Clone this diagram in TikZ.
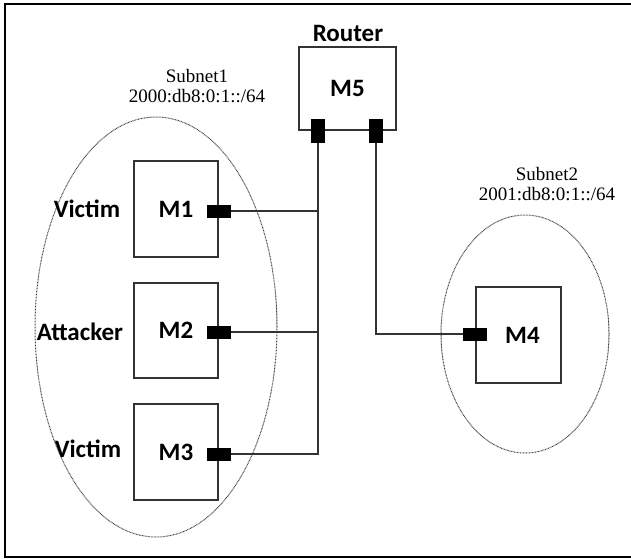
\documentclass[tikz,border=0pt]{standalone}
\usepackage{fontspec}
\setmainfont{Liberation Serif}
\newfontfamily\lblfont{Carlito}
\usetikzlibrary{shapes.geometric}
\begin{document}
\begin{tikzpicture}[x=1pt,y=-1pt,
  host/.style={draw=black!80,line width=1.3pt,minimum width=84pt,minimum height=96pt,inner sep=0pt,font=\lblfont\bfseries\fontsize{25}{28}\selectfont},
  hport/.style={fill=black,minimum width=24pt,minimum height=13pt,inner sep=0pt},
  vport/.style={fill=black,minimum width=14pt,minimum height=24pt,inner sep=0pt},
  wire/.style={draw=black!80,line width=1.3pt},
  subnet/.style={draw=black!75,dash pattern=on 0.8pt off 0.7pt,line width=1pt,ellipse,inner sep=0pt},
  role/.style={font=\lblfont\bfseries\fontsize{25}{28}\selectfont,inner sep=0pt},
  net/.style={font=\fontsize{19}{20}\selectfont,align=center,inner sep=0pt}]
\useasboundingbox (0,0) rectangle (631,558);
\draw[line width=2pt] (640,3.5) -- (4.5,3.5) -- (4.5,556.5) -- (640,556.5);
% subnets
\node[subnet,minimum width=242pt,minimum height=420pt] (s1) at (156,327) {};
\node[subnet,minimum width=168pt,minimum height=238pt] (s2) at (525,334) {};
% hosts
\node[host] (m1) at (176,209) {M1};
\node[host,minimum height=95pt] (m2) at (176,330.5) {M2};
\node[host] (m3) at (176,452) {M3};
\node[host,minimum width=85pt] (m4) at (518.5,335) {\hspace{8pt}M4};
\node[host,minimum width=97pt,minimum height=83pt] (m5) at (347.5,88.5) {\raisebox{-2pt}{M5}};
% ports
\node[hport] (p1) at (m1.east |- 0,211) {};
\node[hport] (p2) at (m2.east |- 0,332) {};
\node[hport] (p3) at (m3.east |- 0,454) {};
\node[hport] (p4) at (m4.west |- 0,334) {};
\node[vport] (p5a) at (m5.south -| 318,0) {};
\node[vport] (p5b) at (m5.south -| 376,0) {};
% wires
\draw[wire] (p5a.south) |- (p3.east);
\draw[wire] (p1.east) -- (p1.east -| p5a);
\draw[wire] (p2.east) -- (p2.east -| p5a);
\draw[wire] (p5b.south) |- (p4.west);
% labels
\node[role] (r) at (348,33) {Router};
\node[role] (v1) at (87,209) {Victim};
\node[role] (a2) at (80,332) {Attacker};
\node[role] (v3) at (88,449) {Victim};
\node[net] (n1) at (197,86) {Subnet1\\2000:db8:0:1::/64};
\node[net] (n2) at (547,184) {Subnet2\\2001:db8:0:1::/64};
\end{tikzpicture}
\end{document}
